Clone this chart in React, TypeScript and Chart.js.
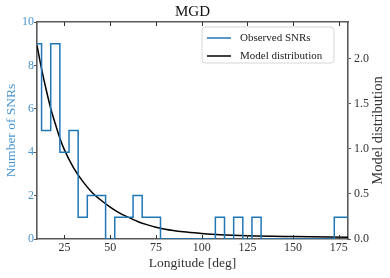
import React, { useEffect, useRef } from "react";
import { Chart, registerables } from "chart.js";

Chart.register(...registerables);

// ---- data ----
const binCenters = [10, 15, 20, 25, 30, 35, 40, 45, 50, 55, 60, 65, 70, 75, 80, 85, 90, 95, 100, 105, 110, 115, 120, 125, 130, 135, 140, 145, 150, 155, 160, 165, 170, 175, 180];
const binCounts = [9, 5, 9, 4, 5, 1, 2, 2, 0, 1, 1, 2, 1, 1, 0, 0, 0, 0, 0, 0, 1, 0, 1, 0, 1, 0, 0, 0, 0, 0, 0, 0, 0, 1, 1];
const binWidth = 5;

const modelX = [10, 12.5, 15, 17.5, 20, 22.5, 25, 30, 35, 40, 45, 50, 55, 60, 65, 70, 75, 80, 90, 100, 110, 125, 150, 180];
const modelY = [2.15, 1.89, 1.66, 1.45, 1.28, 1.12, 0.99, 0.79, 0.64, 0.52, 0.43, 0.355, 0.29, 0.24, 0.195, 0.16, 0.13, 0.108, 0.08, 0.062, 0.048, 0.036, 0.027, 0.02];

const xTicks = [25, 50, 75, 100, 125, 150, 175];
const yLeftTicks = [0, 2, 4, 6, 8, 10];
const yRightTicks = [0, 0.5, 1.0, 1.5, 2.0];

const titleText = "MGD";
const xLabel = "Longitude [deg]";
const yLeftLabel = "Number of SNRs";
const yRightLabel = "Model distribution";
const histLabel = "Observed SNRs";
const modelLabel = "Model distribution";

const FONT = "'Liberation Serif', 'Times New Roman', serif";
const BLUE = "#1f77b4";
const BLUE_TEXT = "#4a94cf";
const SPINE = "#5a5a5a";
const TEXT = "#333333";

export default function App() {
  const ref = useRef<HTMLCanvasElement | null>(null);

  useEffect(() => {
    document.body.style.margin = "0";
    const canvas = ref.current;
    if (!canvas) return;

    const histPoints: { x: number; y: number }[] = [];
    histPoints.push({ x: binCenters[0] - binWidth / 2, y: 0 });
    binCenters.forEach((c, i) => {
      histPoints.push({ x: c - binWidth / 2, y: binCounts[i] });
      histPoints.push({ x: c + binWidth / 2, y: binCounts[i] });
    });
    histPoints.push({ x: binCenters[binCenters.length - 1] + binWidth / 2, y: 0 });

    const modelPoints = modelX.map((x, i) => ({ x, y: modelY[i] }));

    const overlay = {
      id: "overlay",
      afterDraw(chart: any) {
        const ctx = chart.ctx;
        const area = chart.chartArea;
        const xs = chart.scales.x;
        ctx.save();
        // inward x ticks (bottom and top)
        ctx.strokeStyle = TEXT;
        ctx.lineWidth = 1;
        xTicks.forEach((v) => {
          const px = Math.round(xs.getPixelForValue(v)) + 0.5;
          ctx.beginPath();
          ctx.moveTo(px, area.bottom);
          ctx.lineTo(px, area.bottom - 4);
          ctx.moveTo(px, area.top);
          ctx.lineTo(px, area.top + 4);
          ctx.stroke();
        });
        // title
        ctx.fillStyle = "#111";
        ctx.font = `15px ${FONT}`;
        ctx.textAlign = "center";
        ctx.textBaseline = "middle";
        ctx.fillText(titleText, (area.left + area.right) / 2, 12);
        // right axis title (reads bottom to top)
        ctx.save();
        ctx.translate(area.right + 30, (area.top + area.bottom) / 2);
        ctx.rotate(-Math.PI / 2);
        ctx.fillStyle = TEXT;
        ctx.font = `14.5px ${FONT}`;
        ctx.textAlign = "center";
        ctx.textBaseline = "middle";
        ctx.fillText(yRightLabel, 0, 0);
        ctx.restore();
        // legend
        const bw = 132;
        const bh = 36;
        const bx = area.right - 14 - bw;
        const by = area.top + 5;
        ctx.beginPath();
        const r = 3;
        ctx.moveTo(bx + r, by);
        ctx.lineTo(bx + bw - r, by);
        ctx.arcTo(bx + bw, by, bx + bw, by + r, r);
        ctx.lineTo(bx + bw, by + bh - r);
        ctx.arcTo(bx + bw, by + bh, bx + bw - r, by + bh, r);
        ctx.lineTo(bx + r, by + bh);
        ctx.arcTo(bx, by + bh, bx, by + bh - r, r);
        ctx.lineTo(bx, by + r);
        ctx.arcTo(bx, by, bx + r, by, r);
        ctx.closePath();
        ctx.fillStyle = "rgba(255,255,255,0.8)";
        ctx.fill();
        ctx.strokeStyle = "#d6d6d6";
        ctx.lineWidth = 1;
        ctx.stroke();
        const items = chart.data.datasets.map((d: any) => ({ label: d.label, color: d.borderColor }));
        items.forEach((it: any, i: number) => {
          const ly = by + 11 + i * 18;
          ctx.strokeStyle = it.color;
          ctx.lineWidth = 1.5;
          ctx.beginPath();
          ctx.moveTo(bx + 5, ly);
          ctx.lineTo(bx + 29, ly);
          ctx.stroke();
          ctx.fillStyle = "#222";
          ctx.font = `11px ${FONT}`;
          ctx.textAlign = "left";
          ctx.textBaseline = "middle";
          ctx.fillText(it.label, bx + 38, ly);
        });
        ctx.restore();
      },
    };

    const chart = new Chart(canvas, {
      type: "line",
      data: {
        datasets: [
          {
            label: histLabel,
            data: histPoints,
            yAxisID: "y",
            xAxisID: "x",
            borderColor: BLUE,
            borderWidth: 1.5,
            pointRadius: 0,
            tension: 0,
            fill: false,
          },
          {
            label: modelLabel,
            data: modelPoints,
            yAxisID: "y2",
            xAxisID: "x",
            borderColor: "#000000",
            borderWidth: 1.5,
            pointRadius: 0,
            cubicInterpolationMode: "monotone",
            fill: false,
          },
        ],
      },
      options: {
        animation: false,
        responsive: false,
        events: [],
        layout: { padding: 0 },
        plugins: {
          legend: { display: false },
          title: { display: false },
          tooltip: { enabled: false },
        },
        scales: {
          x: {
            type: "linear",
            position: "bottom",
            min: 10,
            max: 180,
            z: 1,
            afterBuildTicks: (s: any) => {
              s.ticks = xTicks.map((v) => ({ value: v }));
            },
            afterFit: (s: any) => {
              s.height = 39;
            },
            grid: { display: true, drawOnChartArea: false, drawTicks: false },
            border: { color: SPINE, width: 1.6 },
            ticks: {
              color: TEXT,
              font: { family: FONT, size: 12 },
              padding: 2,
              maxRotation: 0,
            },
            title: {
              display: true,
              text: xLabel,
              color: TEXT,
              font: { family: FONT, size: 13.5 },
              padding: { top: 0, bottom: 6 },
            },
          },
          x2: {
            type: "linear",
            position: "top",
            min: 10,
            max: 180,
            z: 1,
            afterBuildTicks: (s: any) => {
              s.ticks = xTicks.map((v) => ({ value: v }));
            },
            afterFit: (s: any) => {
              s.height = 22;
            },
            grid: { display: true, drawOnChartArea: false, drawTicks: false },
            border: { color: SPINE, width: 1.6 },
            ticks: { display: false },
          },
          y: {
            type: "linear",
            position: "left",
            min: 0,
            max: 10,
            z: 1,
            afterBuildTicks: (s: any) => {
              s.ticks = yLeftTicks.map((v) => ({ value: v }));
            },
            afterFit: (s: any) => {
              s.width = 37;
            },
            grid: { display: true, drawOnChartArea: false, drawTicks: true, tickLength: 3, tickColor: SPINE },
            border: { color: SPINE, width: 1.6 },
            ticks: {
              color: BLUE_TEXT,
              font: { family: FONT, size: 12 },
              padding: 0,
            },
            title: {
              display: true,
              text: yLeftLabel,
              color: BLUE_TEXT,
              font: { family: FONT, size: 13.5 },
              padding: { top: 3, bottom: 0 },
            },
          },
          y2: {
            type: "linear",
            position: "right",
            min: 0,
            max: 2.41,
            z: 1,
            afterBuildTicks: (s: any) => {
              s.ticks = yRightTicks.map((v) => ({ value: v }));
            },
            afterFit: (s: any) => {
              s.width = 42;
            },
            grid: { display: true, drawOnChartArea: false, drawTicks: true, tickLength: 3, tickColor: SPINE },
            border: { color: SPINE, width: 1.6 },
            ticks: {
              color: TEXT,
              font: { family: FONT, size: 12 },
              padding: 3,
              callback: (v: any) => Number(v).toFixed(1),
            },
            title: { display: false },
          },
        },
      } as any,
      plugins: [overlay],
    });

    return () => {
      chart.destroy();
    };
  }, []);

  return (
    <div style={{ width: 390, height: 278, position: "relative" }}>
      <canvas ref={ref} width={390} height={278} style={{ display: "block" }} />
    </div>
  );
}
